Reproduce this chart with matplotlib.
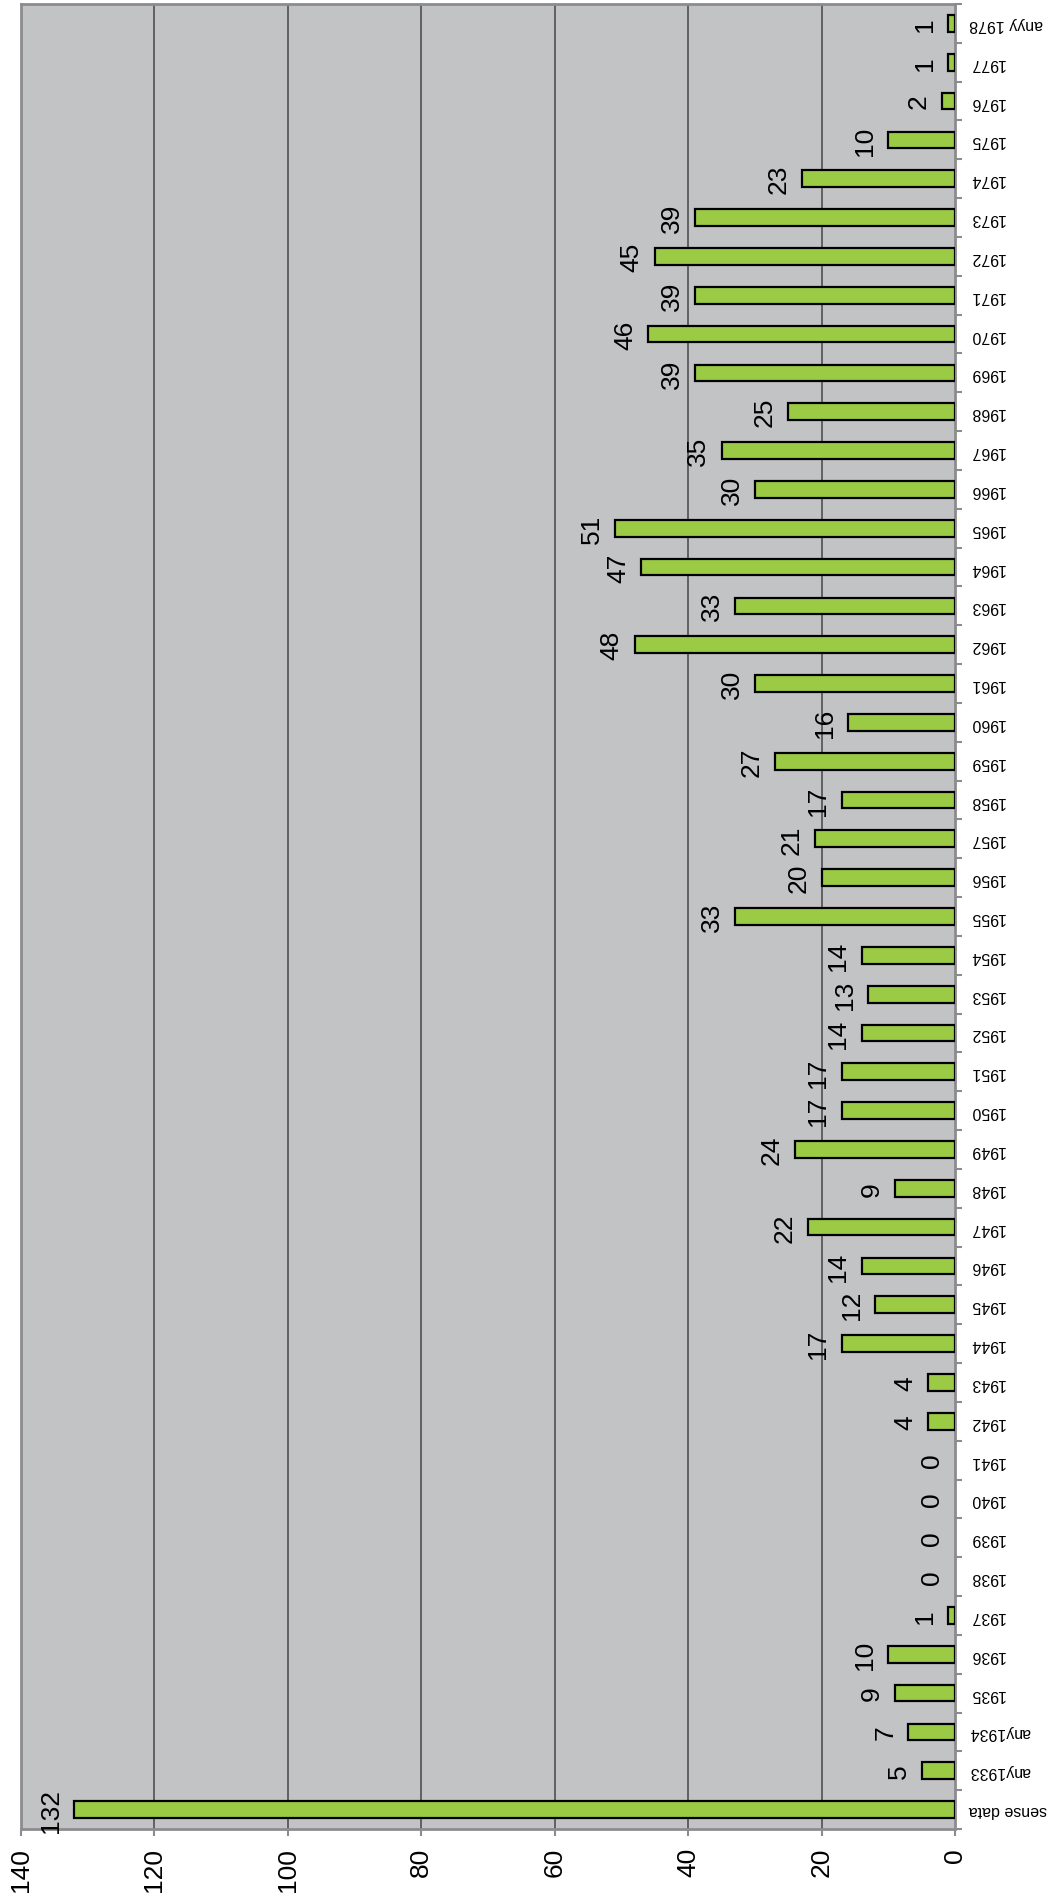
import matplotlib
matplotlib.use("Agg")
import matplotlib.pyplot as plt
import numpy as np

categories = ["sense data", "any1933", "any1934"] + [str(y) for y in range(1935, 1978)] + ["anyy 1978"]
values = [132, 5, 7, 9, 10, 1, 0, 0, 0, 0, 4, 4, 17, 12, 14, 22, 9, 24, 17, 17,
          14, 13, 14, 33, 20, 21, 17, 27, 16, 30, 48, 33, 47, 51, 30, 35, 25, 39,
          46, 39, 45, 39, 23, 10, 2, 1, 1]
value_ticks = [0, 20, 40, 60, 80, 100, 120, 140]

plt.rcParams['font.family'] = ['Liberation Sans', 'DejaVu Sans']

fig = plt.figure(figsize=(10.5, 18.99), dpi=100)
ax = fig.add_axes([21/1050, 1 - 1830/1899, (955 - 21)/1050, (1830 - 5)/1899])

n = len(categories)
pos = np.arange(n)
ax.set_facecolor('#C2C3C5')
lws = [1.6 if v > 0 else 0 for v in values]
ax.barh(pos, values, height=0.43, color='#9BCB45', edgecolor='black', linewidth=lws, zorder=3)

ax.set_xlim(140, 0)
ax.set_ylim(-0.5, n - 0.5)

for v in value_ticks[1:-1]:
    ax.axvline(v, color='#505052', linewidth=1.2, zorder=1)

# value axis
ax.set_xticks(value_ticks)
ax.set_xticklabels([str(v) for v in value_ticks], rotation=90, fontsize=19, va='top')
ax.tick_params(axis='x', direction='out', length=5, width=1.5, color='#8C8C8E', pad=8)

# category axis on right
ax.yaxis.tick_right()
ax.set_yticks(pos)
ax.set_yticklabels(categories, rotation=180, fontsize=11.5, va='center', ha='left')
ax.tick_params(axis='y', which='major', length=0, pad=10)
ax.set_yticks(np.arange(n + 1) - 0.5, minor=True)
ax.tick_params(axis='y', which='minor', direction='out', length=5, width=1.5, color='#8C8C8E')

for s in ax.spines.values():
    s.set_color('#8C8C8E')
    s.set_linewidth(2)

for p, v in zip(pos, values):
    ax.annotate(str(v), xy=(v, p), xytext=(-8, 0), textcoords='offset points',
                rotation=90, ha='right', va='center', fontsize=19, zorder=4)

fig.savefig('out.png', dpi=100)
